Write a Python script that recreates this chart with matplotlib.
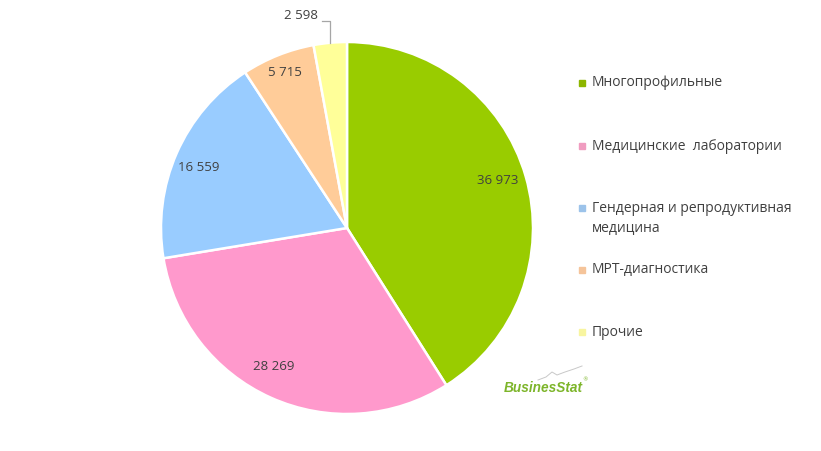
import matplotlib
matplotlib.use("Agg")
import matplotlib.pyplot as plt
import numpy as np

categories = ["Многопрофильные", "Медицинские  лаборатории",
              "Гендерная и репродуктивная\nмедицина", "МРТ-диагностика", "Прочие"]
values = [36973, 28269, 16559, 5715, 2598]
value_labels = ["36 973", "28 269", "16 559", "5 715", "2 598"]
colors = ["#99CC00", "#FF99CC", "#99CCFF", "#FFCC99", "#FFFF99"]
legend_colors = ["#8DB600", "#F09CC0", "#9CC3EA", "#F5C49A", "#F8F5A0"]

FONT = "Open Sans"
TXT = "#404040"

fig = plt.figure(figsize=(8.21, 4.51), dpi=100)
ax = fig.add_axes([161/821, 37/451, 372/821, 372/451])
wedges, _ = ax.pie(values, colors=colors, startangle=90, counterclock=False,
                   wedgeprops=dict(edgecolor="white", linewidth=1.8))
ax.set_xlim(-1, 1)
ax.set_ylim(-1, 1)
ax.set_aspect("equal")

label_r = [0.85, 0.845, 0.86, 0.90]
label_dang = [1.5, -3.7, 1.6, 0.0]
for w, lab, r, da in zip(wedges[:4], value_labels[:4], label_r, label_dang):
    ang = np.deg2rad((w.theta1 + w.theta2) / 2 + da)
    ax.text(r*np.cos(ang), r*np.sin(ang), lab, ha="center", va="center",
            fontsize=9.5, color=TXT, family=FONT)

# outside label with leader line for the last slice
w = wedges[4]
ang = np.deg2rad((w.theta1 + w.theta2) / 2)
ex, ey = np.cos(ang), np.sin(ang)
ax.plot([-0.134, ex, ex], [1.113, 1.113, ey], color="#A6A6A6", lw=0.9,
        clip_on=False)
ax.text(-0.247, 1.145, value_labels[4], ha="center", va="center",
        fontsize=9.5, color=TXT, family=FONT, clip_on=False)

# legend
leg_y = [83, 146, 208, 270, 332]
for cat, c, y in zip(categories, legend_colors, leg_y):
    fy = 1 - y/451
    fig.patches.append(plt.Rectangle((579/821, fy - 3/451), 6/821, 6/451,
                                     transform=fig.transFigure, color=c))
    if "\n" in cat:
        fig.text(592/821, 1 - 201/451, cat, ha="left", va="top",
                 fontsize=10, color=TXT, family=FONT, linespacing=1.45)
    else:
        fig.text(592/821, fy, cat, ha="left", va="center",
                 fontsize=10, color=TXT, family=FONT)

# logo
fig.text(543/821, 1 - 388/451, "BusinesStat", ha="center", va="center",
         fontsize=9.8, fontstyle="italic", fontweight="bold", color="#7DB52A",
         family="Liberation Sans")
fig.text(585/821, 1 - 380/451, "®", ha="center", va="center",
         fontsize=4, color="#7DB52A", family="DejaVu Sans")
lx = np.array([538, 546, 552, 557, 565, 574, 582])
ly = np.array([380, 377, 372, 375, 372, 369, 366])
fig.add_artist(plt.Line2D(lx/821, 1 - ly/451, color="#C8C8C8", lw=0.7,
                          transform=fig.transFigure))

fig.savefig("out.png", dpi=100, facecolor="white")
